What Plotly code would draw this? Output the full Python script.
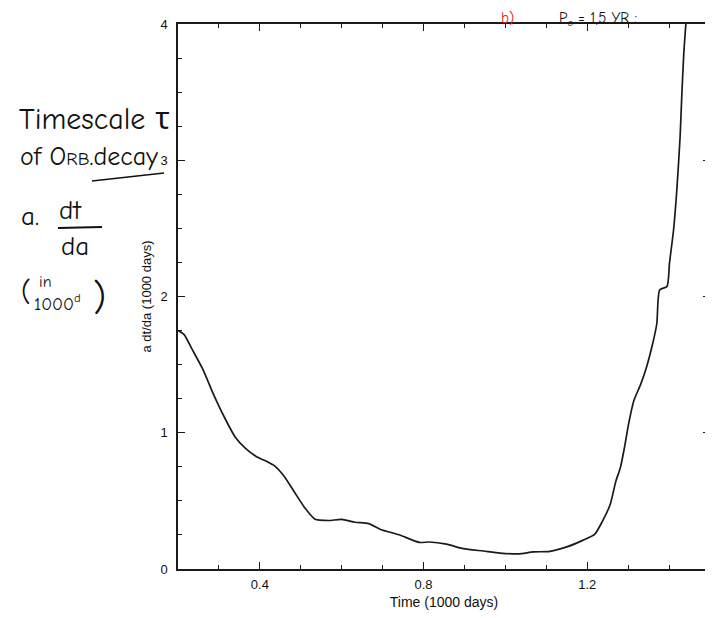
import plotly.graph_objects as go

# Data (x in 1000 days, y = a dt/da in 1000 days)
time_kd = [0.200, 0.215, 0.234, 0.260, 0.287, 0.314, 0.340, 0.365, 0.391, 0.415,
           0.436, 0.458, 0.484, 0.510, 0.535, 0.568, 0.600, 0.633, 0.666, 0.695,
           0.740, 0.790, 0.814, 0.856, 0.897, 0.946, 0.987, 1.032, 1.068, 1.109,
           1.150, 1.189, 1.218, 1.237, 1.256, 1.270, 1.281, 1.291, 1.301, 1.314,
           1.331, 1.345, 1.360, 1.370, 1.377, 1.395, 1.401, 1.411, 1.419, 1.427,
           1.431, 1.436, 1.441]
a_dt_da = [1.75, 1.72, 1.615, 1.47, 1.28, 1.11, 0.967, 0.885, 0.826, 0.792,
           0.757, 0.686, 0.567, 0.448, 0.365, 0.356, 0.364, 0.343, 0.333, 0.290,
           0.251, 0.195, 0.198, 0.182, 0.149, 0.132, 0.117, 0.111, 0.125, 0.130,
           0.162, 0.21, 0.254, 0.349, 0.473, 0.645, 0.744, 0.892, 1.063, 1.236,
           1.359, 1.483, 1.655, 1.80, 2.048, 2.074, 2.245, 2.49, 2.784, 3.176,
           3.469, 3.786, 4.0]

x_tickvals = [0.4, 0.8, 1.2]
x_ticktext = ["0.4", "0.8", "1.2"]
y_tickvals = [0, 1, 2, 3, 4]
y_ticktext = ["0", "1", "2", "3", "4"]

fig = go.Figure()
fig.add_trace(go.Scatter(x=time_kd, y=a_dt_da, mode="lines",
                         line=dict(color="#1a1a1a", width=1.7, shape="spline", smoothing=0.6),
                         showlegend=False, hoverinfo="skip"))

tick_font = dict(family="Liberation Sans, Arial, sans-serif", size=13, color="#111")
axis_common = dict(showgrid=False, zeroline=False, showline=True, linecolor="#1a1a1a",
                   linewidth=1.5, mirror="ticks", ticks="inside", ticklen=7,
                   tickwidth=1.2, tickcolor="#1a1a1a", automargin=False,
                   tickfont=tick_font)

fig.update_xaxes(range=[0.2, 1.5], tickmode="array", tickvals=x_tickvals, ticktext=x_ticktext,
                 minor=dict(dtick=0.1, tick0=0.0, ticks="inside", ticklen=4, tickwidth=1.1,
                            tickcolor="#1a1a1a"),
                 ticklabelstandoff=3,
                 title=dict(text="Time (1000 days)", standoff=6,
                            font=dict(family="Liberation Sans, Arial, sans-serif", size=14, color="#111")),
                 **axis_common)
fig.update_yaxes(range=[0, 4], tickmode="array", tickvals=y_tickvals, ticktext=y_ticktext,
                 minor=dict(dtick=0.25, tick0=0.0, ticks="inside", ticklen=4, tickwidth=1.1,
                            tickcolor="#1a1a1a"),
                 ticklabelstandoff=6,
                 title=dict(text="a dt/da (1000 days)", standoff=6,
                            font=dict(family="Liberation Sans, Arial, sans-serif", size=13, color="#111")),
                 **axis_common)

hand = "Comic Neue, Noto Sans, DejaVu Sans, sans-serif"
ann = []
def note(text, x, y, size, color="#111", xanchor="left", yanchor="middle"):
    ann.append(dict(text=text, x=x, y=y, xref="paper", yref="paper", showarrow=False,
                    xanchor=xanchor, yanchor=yanchor, borderpad=0,
                    font=dict(family=hand, size=size, color=color)))

OFF = 8             # page body margin
FW, FH = 713 - OFF, 618 - OFF
W, H = 532, 545     # plot area size in px
L, T = 178 - OFF, 24 - OFF
def px(xp):
    return (xp - OFF - L) / W
def py(yp):
    return 1 - (yp - OFF - T) / H

note("Timescale τ", px(18), py(119), 30)
note("of O<span style='font-size:19px'>RB</span>.decay", px(19), py(157), 26)
note("a.", px(20), py(216), 27)
note("dt", px(58), py(210), 27)
note("da", px(60), py(246), 27)
note("(", px(20), py(292), 28)
note("in", px(38), py(282), 16)
note("1000<sup>d</sup>", px(33), py(303), 18)
note(")", px(92), py(298), 38)
note("b)", px(500), py(8), 15, color="#e02020", yanchor="top")
note("P<sub>o</sub> = 1,5 YR :", px(558), py(8), 15, yanchor="top")

fig.add_shape(type="line", xref="paper", yref="paper",
              x0=px(58), x1=px(102), y0=py(228), y1=py(227),
              line=dict(color="#111", width=2))
fig.add_shape(type="line", xref="paper", yref="paper",
              x0=px(92), x1=px(164), y0=py(181), y1=py(173),
              line=dict(color="#111", width=1.6))

fig.update_layout(width=FW, height=FH, plot_bgcolor="white", paper_bgcolor="white",
                  margin=dict(l=L, r=FW - L - W, t=T, b=FH - T - H, autoexpand=False),
                  annotations=ann)

fig.write_html("out.html")
